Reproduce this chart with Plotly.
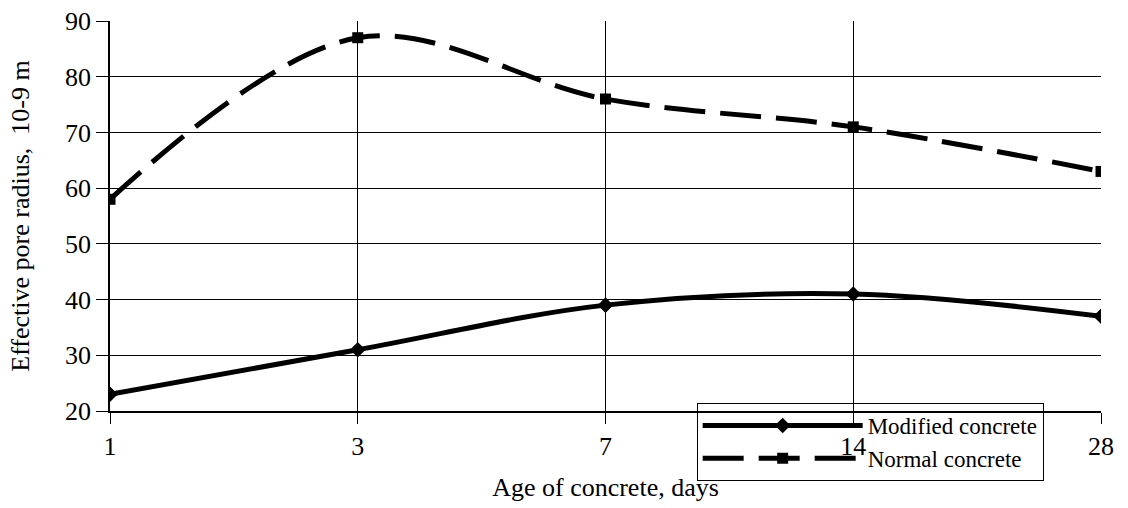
import plotly.graph_objects as go

ages = ["1", "3", "7", "14", "28"]
modified = [23, 31, 39, 41, 37]
normal = [58, 87, 76, 71, 63]
y_ticks = [20, 30, 40, 50, 60, 70, 80, 90]

FONT = "Liberation Serif, Times New Roman, serif"

fig = go.Figure()
fig.add_trace(go.Scatter(
    x=ages, y=modified, name="Modified concrete", mode="lines+markers",
    line=dict(color="black", width=5, shape="spline", smoothing=1.0),
    marker=dict(symbol="diamond", size=12, color="black"),
))
fig.add_trace(go.Scatter(
    x=ages, y=normal, name="Normal concrete", mode="lines+markers",
    line=dict(color="black", width=5, shape="spline", smoothing=1.0, dash="41px,15px"),
    marker=dict(symbol="square", size=11, color="black"),
))

fig.update_layout(
    width=1128, height=508,
    margin=dict(l=110, r=27, t=21, b=97, autoexpand=False),
    paper_bgcolor="white", plot_bgcolor="white",
    font=dict(family=FONT, size=26, color="black"),
    showlegend=True,
    legend=dict(
        x=0.592, y=0.0205, xanchor="left", yanchor="top",
        bgcolor="rgba(255,255,255,0)", bordercolor="black", borderwidth=1,
        itemwidth=160, font=dict(family=FONT, size=23, color="black"),
        tracegroupgap=0,
    ),
    xaxis=dict(
        type="category", categoryorder="array", categoryarray=ages,
        range=[0, 4], showgrid=True, gridcolor="black", gridwidth=1,
        showline=True, linecolor="black", linewidth=1.5,
        ticks="outside", ticklen=11, tickcolor="black",
        title=dict(text="Age of concrete, days", font=dict(size=26), standoff=18),
        zeroline=False,
    ),
    yaxis=dict(
        range=[20, 90], tickvals=y_ticks, showgrid=True, gridcolor="black", gridwidth=1,
        showline=True, linecolor="black", linewidth=1.5,
        ticks="outside", ticklen=12, tickcolor="black",
        title=dict(text="Effective pore radius,  10-9 m", font=dict(size=26), standoff=28),
        zeroline=False,
    ),
)

fig.write_html("out.html", config={"displayModeBar": False},
               post_script="document.body.style.margin='0';")
